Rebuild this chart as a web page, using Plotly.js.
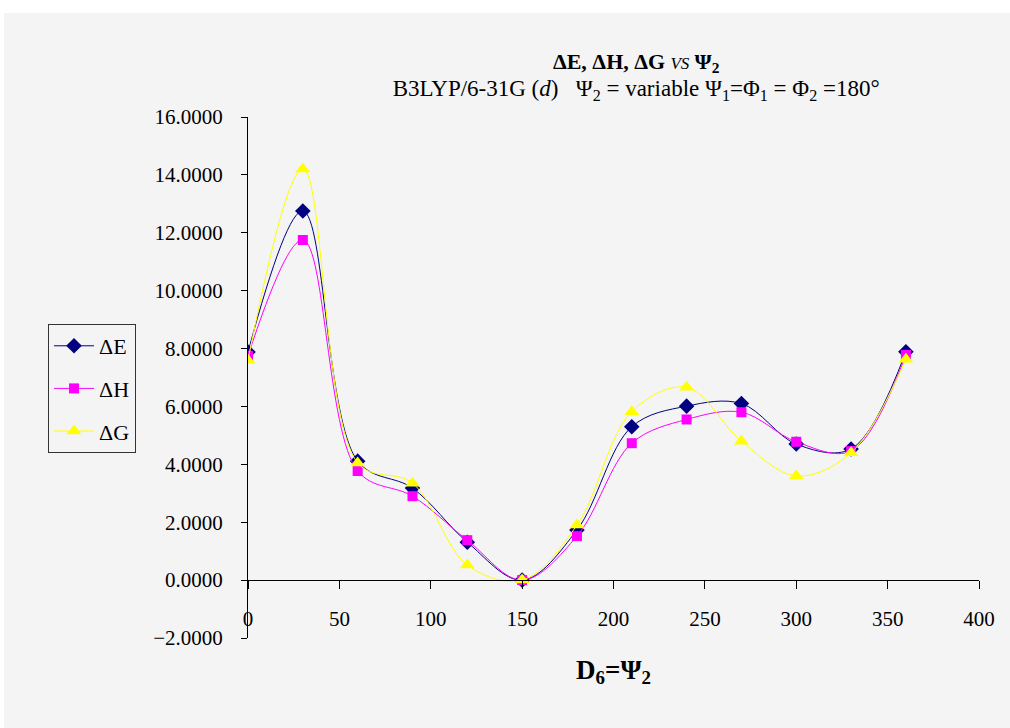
<!DOCTYPE html>
<html>
<head>
<meta charset="utf-8">
<script src="https://cdn.plot.ly/plotly-3.0.1.min.js"></script>
<style>
html,body{margin:0;padding:0;background:#ffffff;width:1010px;height:728px;overflow:hidden;}
#chart{position:absolute;left:4px;top:13px;width:1006px;height:715px;}
</style>
</head>
<body>
<div id="chart"></div>
<script>
var psi2 = [0, 30, 60, 90, 120, 150, 180, 210, 240, 270, 300, 330, 360];
var dE = [7.88, 12.75, 4.11, 3.18, 1.31, 0.0, 1.73, 5.30, 6.01, 6.10, 4.70, 4.53, 7.89];
var dH = [7.75, 11.75, 3.77, 2.90, 1.38, 0.0, 1.52, 4.73, 5.55, 5.80, 4.78, 4.46, 7.78];
var dG = [7.60, 14.20, 4.05, 3.35, 0.52, 0.0, 1.90, 5.82, 6.66, 4.80, 3.60, 4.40, 7.63];
var seriesNames = ['ΔE', 'ΔH', 'ΔG'];
var xTicks = [0, 50, 100, 150, 200, 250, 300, 350, 400];
var yTicks = [-2, 0, 2, 4, 6, 8, 10, 12, 14, 16];

var serif = '"Liberation Serif", "Times New Roman", serif';

var traces = [
  {x: psi2, y: dE, name: seriesNames[0], mode: 'lines+markers', legendgroup: 'e',
   line: {color: '#000080', width: 1, shape: 'spline', smoothing: 1},
   marker: {symbol: 'diamond', size: 12, color: '#000080'}},
  {x: psi2, y: dH, name: seriesNames[1], mode: 'lines+markers', legendgroup: 'h',
   line: {color: '#FF00FF', width: 1, shape: 'spline', smoothing: 1},
   marker: {symbol: 'square', size: 10, color: '#FF00FF'}},
  {x: psi2, y: dG, name: seriesNames[2], mode: 'lines+markers', legendgroup: 'g',
   line: {color: '#FFFF00', width: 1, shape: 'spline', smoothing: 1},
   marker: {symbol: 'triangle-up', size: 13, color: '#FFFF00'}}
];

var layout = {
  width: 1006, height: 715,
  paper_bgcolor: '#f4f4f4', plot_bgcolor: '#f4f4f4',
  margin: {l: 244, r: 31, t: 104, b: 90},
  font: {family: serif, color: '#000', size: 20},
  title: {
    text: '<b><span style="font-size:22px">ΔE, ΔH, ΔG</span></b> <i><span style="font-size:17px">VS</span></i> <b><span style="font-size:22px">Ψ<sub>2</sub></span></b><br><span style="font-size:23px">B3LYP/6-31G (<i>d</i>)   Ψ<sub>2</sub> = variable Ψ<sub>1</sub>=Φ<sub>1</sub> = Φ<sub>2</sub> =180°</span>',
    font: {family: serif, size: 21, color: '#000'},
    x: 0.531, xanchor: 'center', xref: 'paper',
    y: 0.922, yanchor: 'top', yref: 'container'
  },
  showlegend: true,
  legend: {
    x: -0.2736, xanchor: 'left', xref: 'paper',
    y: 0.6027, yanchor: 'top',
    bgcolor: '#f4f4f4', bordercolor: '#333', borderwidth: 1,
    font: {family: serif, size: 22, color: '#000'},
    traceorder: 'grouped', tracegroupgap: 11, itemwidth: 40
  },
  xaxis: {
    range: [0, 400], tickvals: xTicks, ticktext: xTicks.map(String),
    anchor: 'free', position: 2 / 18,
    showline: true, linecolor: '#000', linewidth: 1,
    ticks: 'outside', ticklen: 8, tickcolor: '#000',
    ticklabelstandoff: 12,
    tickfont: {family: serif, size: 21, color: '#000'},
    showgrid: false, zeroline: false,
    title: {text: '<b>D<sub>6</sub>=Ψ<sub>2</sub></b>', font: {family: serif, size: 27, color: '#000'}, standoff: 29}
  },
  yaxis: {
    range: [-2, 16], tickvals: yTicks, tickformat: '.4f',
    showline: true, linecolor: '#000', linewidth: 1,
    ticks: 'outside', ticklen: 6, tickcolor: '#000',
    ticklabelstandoff: 14,
    tickfont: {family: serif, size: 21, color: '#000'},
    showgrid: false, zeroline: false
  }
};

Plotly.newPlot('chart', traces, layout, {displayModeBar: false, staticPlot: true});
</script>
</body>
</html>
